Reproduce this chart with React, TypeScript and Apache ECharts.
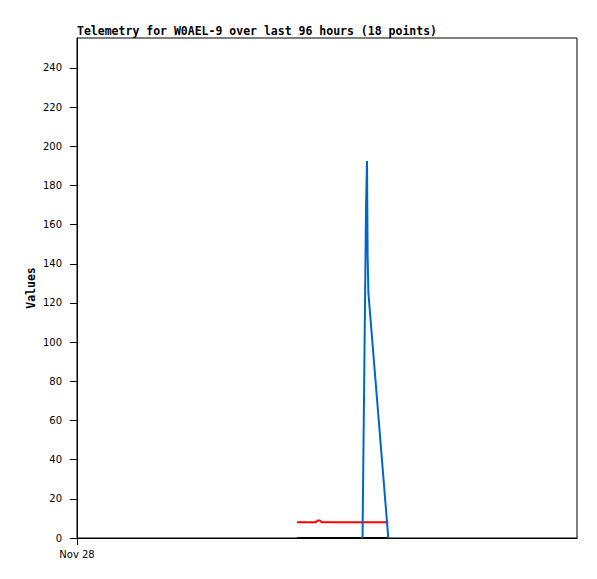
import React, { useEffect, useRef } from "react";
import * as echarts from "echarts";

const titleText = "Telemetry for W0AEL-9 over last 96 hours (18 points)";
const yName = "Values";
const yTicks = [0, 20, 40, 60, 80, 100, 120, 140, 160, 180, 200, 220, 240];
const xTickHours = [0];
const xTickLabels = ["Nov 28"];

// x = hours since Nov 28 00:00, y = value
const blackSeries: [number, number][] = [
  [42.24, 0],
  [59.77, 0],
];
const redSeries: [number, number][] = [
  [42.24, 8.0],
  [45.8, 8.0],
  [46.25, 8.9],
  [46.6, 8.9],
  [47.0, 8.0],
  [59.77, 8.0],
];
const blueSeries: [number, number][] = [
  [54.82, 0],
  [55.49, 168],
  [55.68, 192.5],
  [55.8, 144],
  [55.95, 125],
  [59.77, 0],
];

export default function App() {
  const ref = useRef<HTMLDivElement>(null);
  useEffect(() => {
    if (!ref.current) return;
    const chart = echarts.init(ref.current, undefined, { renderer: "svg" });
    const labelFont = { fontFamily: "DejaVu Sans", fontSize: 10, color: "#000" };
    chart.setOption({
      animation: false,
      backgroundColor: "#fff",
      title: {
        text: titleText,
        left: 77,
        top: 25,
        padding: 0,
        textStyle: {
          fontFamily: "DejaVu Sans Mono",
          fontWeight: "bold",
          fontSize: 11.5,
          color: "#000",
        },
      },
      grid: {
        left: 77,
        top: 38,
        right: 20,
        bottom: 41,
        show: true,
        borderColor: "#000",
        borderWidth: 1,
        backgroundColor: "#fff",
      },
      xAxis: {
        type: "value",
        min: 0,
        max: 96,
        axisLine: { show: true, lineStyle: { color: "#000", width: 1 } },
        axisTick: { show: true, length: 7, customValues: xTickHours, lineStyle: { color: "#000" } },
        axisLabel: {
          ...labelFont,
          margin: 11,
          customValues: xTickHours,
          formatter: (v: number) => {
            const i = xTickHours.indexOf(v);
            return i >= 0 ? xTickLabels[i] : "";
          },
        },
        splitLine: { show: false },
      },
      yAxis: {
        type: "value",
        min: 0,
        max: 255.3,
        name: yName,
        nameLocation: "middle",
        nameGap: 40,
        nameMoveOverlap: false,
        nameTextStyle: {
          fontFamily: "DejaVu Sans Mono",
          fontWeight: "bold",
          fontSize: 11.5,
          color: "#000",
        },
        axisLine: { show: true, lineStyle: { color: "#000", width: 1 } },
        axisTick: { show: true, length: 7, customValues: yTicks, lineStyle: { color: "#000" } },
        axisLabel: { ...labelFont, margin: 15, customValues: yTicks },
        splitLine: { show: false },
      },
      series: [
        {
          type: "line",
          data: blackSeries,
          symbol: "none",
          lineStyle: { color: "#000", width: 2 },
          z: 2,
        },
        {
          type: "line",
          data: redSeries,
          symbol: "none",
          lineStyle: { color: "#ff0000", width: 2 },
          z: 3,
        },
        {
          type: "line",
          data: blueSeries,
          symbol: "none",
          lineStyle: { color: "#0066cc", width: 2 },
          z: 4,
        },
      ],
    });
    return () => chart.dispose();
  }, []);
  return (
    <div
      ref={ref}
      style={{ position: "absolute", left: 0, top: 0, width: 597, height: 579 }}
    />
  );
}
